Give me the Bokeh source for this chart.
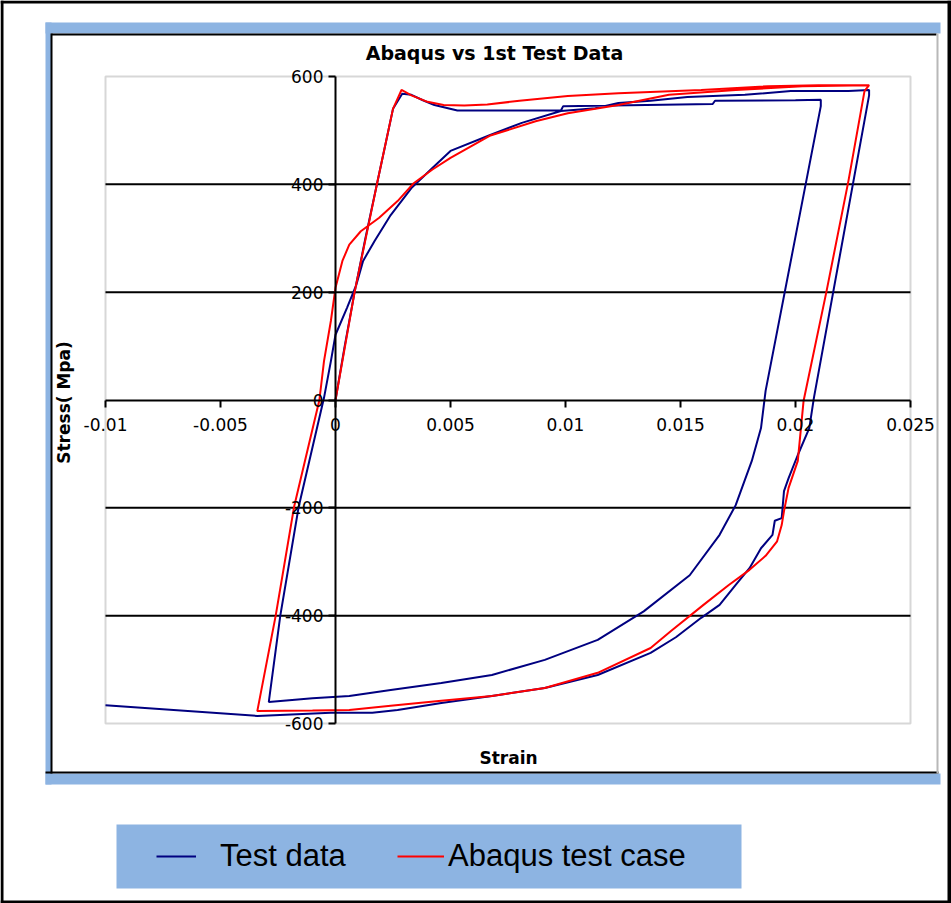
from bokeh.plotting import figure
from bokeh.models import Range1d, FixedTicker, BoxAnnotation, Label, Legend, LegendItem
from bokeh.embed import file_html
from bokeh.resources import INLINE

# ---------------- data ----------------
test_strain = [0.0, 0.0004, 0.00083, 0.0013, 0.0018, 0.0022, 0.0025, 0.0029, 0.0033, 0.0038,
               0.0043, 0.0053, 0.0098, 0.0099, 0.0164, 0.0165, 0.0200, 0.0211, 0.0211, 0.0187,
               0.0185, 0.0181, 0.0174, 0.0167, 0.0154, 0.0134, 0.0114, 0.0091, 0.0068, 0.0046,
               0.0024, 0.0006, -0.0010, -0.0029, -0.0024, -0.0016, -0.0005, -0.0002, 0.0000, 0.0005,
               0.0009, 0.0012, 0.0017, 0.0024, 0.0033, 0.0042, 0.0050, 0.0067, 0.0081, 0.0098,
               0.0113, 0.0123, 0.0137, 0.0153, 0.0178, 0.0198, 0.0223, 0.0232, 0.0232, 0.0208,
               0.0206, 0.0201, 0.0197, 0.0195, 0.0194, 0.0191, 0.0190, 0.0185, 0.0180, 0.0174,
               0.0167, 0.0159, 0.0148, 0.0137, 0.0114, 0.0091, 0.0068, 0.0046, 0.0027, 0.0016,
               -0.0002, -0.0034, -0.0100]
test_stress = [0, 100, 200, 300, 400, 480, 540, 568, 566, 556,
               547, 537, 537, 545, 549, 555, 556, 557, 545, 17,
               -52, -113, -195, -250, -325, -392, -445, -482, -510, -525,
               -538, -549, -553, -560, -400, -198, 4, 72, 121, 171,
               213, 258, 295, 343, 393, 430, 462, 491, 514, 536,
               541, 551, 555, 562, 566, 573, 573, 575, 565, 4,
               -52, -102, -145, -169, -219, -224, -250, -275, -312, -343,
               -380, -404, -440, -469, -510, -534, -549, -562, -575, -580,
               -580, -586, -566]

abaqus_strain = [0.0, 0.00083, 0.0018, 0.0025, 0.00287, 0.0033, 0.0040, 0.0047, 0.0056, 0.0066,
                 0.0080, 0.0101, 0.0123, 0.0159, 0.0188, 0.0210, 0.0232, 0.0230, 0.0223, 0.02135,
                 0.02035, 0.0201, 0.0197, 0.0195, 0.0194, 0.0192, 0.0187, 0.0180, 0.0171, 0.0160,
                 0.0146, 0.0137, 0.0114, 0.0091, 0.0068, 0.0046, 0.0024, 0.0006, -0.0010, -0.0034,
                 -0.0026, -0.0018, -0.0007, -0.0005, -0.0002, 0.0000, 0.0003, 0.0006, 0.0011, 0.0019,
                 0.0027, 0.0034, 0.0042, 0.0050, 0.0067, 0.0087, 0.0101, 0.0123, 0.0145, 0.0174,
                 0.0203, 0.0232]
abaqus_stress = [0, 200, 400, 540, 575, 565, 553, 547, 546, 548,
                 555, 564, 569, 575, 582, 584, 584, 573, 406, 202,
                 -2, -113, -163, -206, -232, -262, -289, -315, -343, -380,
                 -428, -460, -506, -534, -549, -558, -567, -575, -576, -577,
                 -400, -198, 0, 72, 147, 208, 258, 288, 313, 338,
                 369, 402, 427, 449, 490, 517, 532, 547, 566, 575,
                 582, 584]

x_ticks = [-0.01, -0.005, 0, 0.005, 0.01, 0.015, 0.02, 0.025]
x_tick_labels = ["-0.01", "-0.005", "0", "0.005", "0.01", "0.015", "0.02", "0.025"]
y_ticks = [-600, -400, -200, 0, 200, 400, 600]
y_tick_labels = ["-600", "-400", "-200", "0", "200", "400", "600"]
grid_levels = [-400, -200, 200, 400]
x_limits = (-0.01, 0.025)
y_limits = (-600, 600)

title_text = "Abaqus vs 1st Test Data"
x_label = "Strain"
y_label = "Stress( Mpa)"
series_names = ["Test data", "Abaqus test case"]

BLUE_FRAME = "#8DB4E2"
TEST_COLOR = "#000080"
ABQ_COLOR = "#FF0000"

# ---------------- geometry (pixels) ----------------
W, H = 951, 903
BOX_L, BOX_R, BOX_T, BOX_B = 105, 910, 76, 723

sx = (x_limits[1] - x_limits[0]) / (BOX_R - BOX_L)
sy = (y_limits[1] - y_limits[0]) / (BOX_B - BOX_T)
x_range = Range1d(x_limits[0] - BOX_L * sx, x_limits[1] + (W - BOX_R) * sx)
y_range = Range1d(y_limits[0] - (H - BOX_B) * sy, y_limits[1] + BOX_T * sy)

p = figure(width=W, height=H, x_range=x_range, y_range=y_range, title=None,
           output_backend="svg", toolbar_location=None, min_border=0)
p.background_fill_color = "white"
p.border_fill_color = "white"
p.outline_line_color = None
p.xgrid.visible = False
p.ygrid.visible = False


def deco(left, right, top, bottom, fill):
    p.add_layout(BoxAnnotation(left=left, right=right, top=top, bottom=bottom,
                               left_units="canvas", right_units="canvas",
                               top_units="canvas", bottom_units="canvas",
                               fill_color=fill, fill_alpha=1.0, line_alpha=0,
                               level="underlay"))


# chart frame decorations
deco(45, 940, 22, 33, BLUE_FRAME)
deco(45, 51, 22, 784, BLUE_FRAME)
deco(45, 940, 773, 784, BLUE_FRAME)
deco(51, 936, 33, 35, "black")
deco(50, 52, 33, 773, "black")
deco(45, 938, 771, 773, "black")
deco(936, 938, 33, 773, "#b8b8b8")
deco(116, 741, 824, 888, BLUE_FRAME)
deco(0, W, 0, 3, "black")
deco(0, 3, 0, H, "black")
deco(0, W, H - 3, H, "black")
deco(W - 4, W, 0, H, "black")

# plot-area border
p.add_layout(BoxAnnotation(left=x_limits[0], right=x_limits[1], bottom=y_limits[0], top=y_limits[1],
                           fill_alpha=0, line_color="#7a7a7a", line_width=2, level="underlay"))

# horizontal gridlines across the plot area
p.segment(x0=[x_limits[0]] * len(grid_levels), x1=[x_limits[1]] * len(grid_levels),
          y0=grid_levels, y1=grid_levels, line_color="black", line_width=2)

# axes through the origin
for ax, ticks, labels, bnds in ((p.xaxis[0], x_ticks, x_tick_labels, x_limits),
                                (p.yaxis[0], y_ticks, y_tick_labels, y_limits)):
    ax.fixed_location = 0
    ax.bounds = bnds
    ax.ticker = FixedTicker(ticks=ticks)
    ax.major_label_overrides = dict(zip(ticks, labels))
    ax.axis_line_color = "black"
    ax.axis_line_width = 2
    ax.major_tick_line_color = "black"
    ax.major_tick_line_width = 2
    ax.major_tick_in = 0
    ax.major_tick_out = 7
    ax.minor_tick_line_color = None
    ax.major_label_text_font = "DejaVu Sans"
    ax.major_label_text_font_size = "17px"
    ax.major_label_text_color = "black"
p.xaxis.major_label_standoff = 11
p.yaxis.major_label_standoff = 5
p.yaxis.major_label_orientation = "horizontal"

# data series
r_test = p.line(test_strain, test_stress, line_color=TEST_COLOR, line_width=2)
r_abq = p.line(abaqus_strain, abaqus_stress, line_color=ABQ_COLOR, line_width=2)

# texts (screen units: from bottom-left of canvas)
p.add_layout(Label(x=494, y=H - 52, x_units="screen", y_units="screen", text=title_text,
                   text_font="DejaVu Sans", text_font_style="bold", text_font_size="19px",
                   text_align="center", text_baseline="middle", text_color="black"))
p.add_layout(Label(x=508, y=H - 757, x_units="screen", y_units="screen", text=x_label,
                   text_font="DejaVu Sans", text_font_style="bold", text_font_size="17px",
                   text_align="center", text_baseline="middle", text_color="black"))
p.add_layout(Label(x=63, y=H - 402, x_units="screen", y_units="screen", text=y_label,
                   angle=1.5707963, text_font="DejaVu Sans", text_font_style="bold",
                   text_font_size="17px", text_align="center", text_baseline="middle",
                   text_color="black"))


def make_legend(name, rend, loc, gw, standoff):
    lg = Legend(items=[LegendItem(label=name, renderers=[rend])], location=loc,
                orientation="horizontal", padding=0, margin=0, spacing=0,
                glyph_width=gw, glyph_height=20, label_standoff=standoff,
                label_text_font="Liberation Sans", label_text_font_size="31px",
                label_text_color="black", border_line_alpha=0, background_fill_alpha=0)
    p.add_layout(lg, "center")


make_legend(series_names[0], r_test, (156, H - 874), 40, 24)
make_legend(series_names[1], r_abq, (397, H - 874), 47, 4)

open("out.html", "w").write(file_html(p, INLINE))
